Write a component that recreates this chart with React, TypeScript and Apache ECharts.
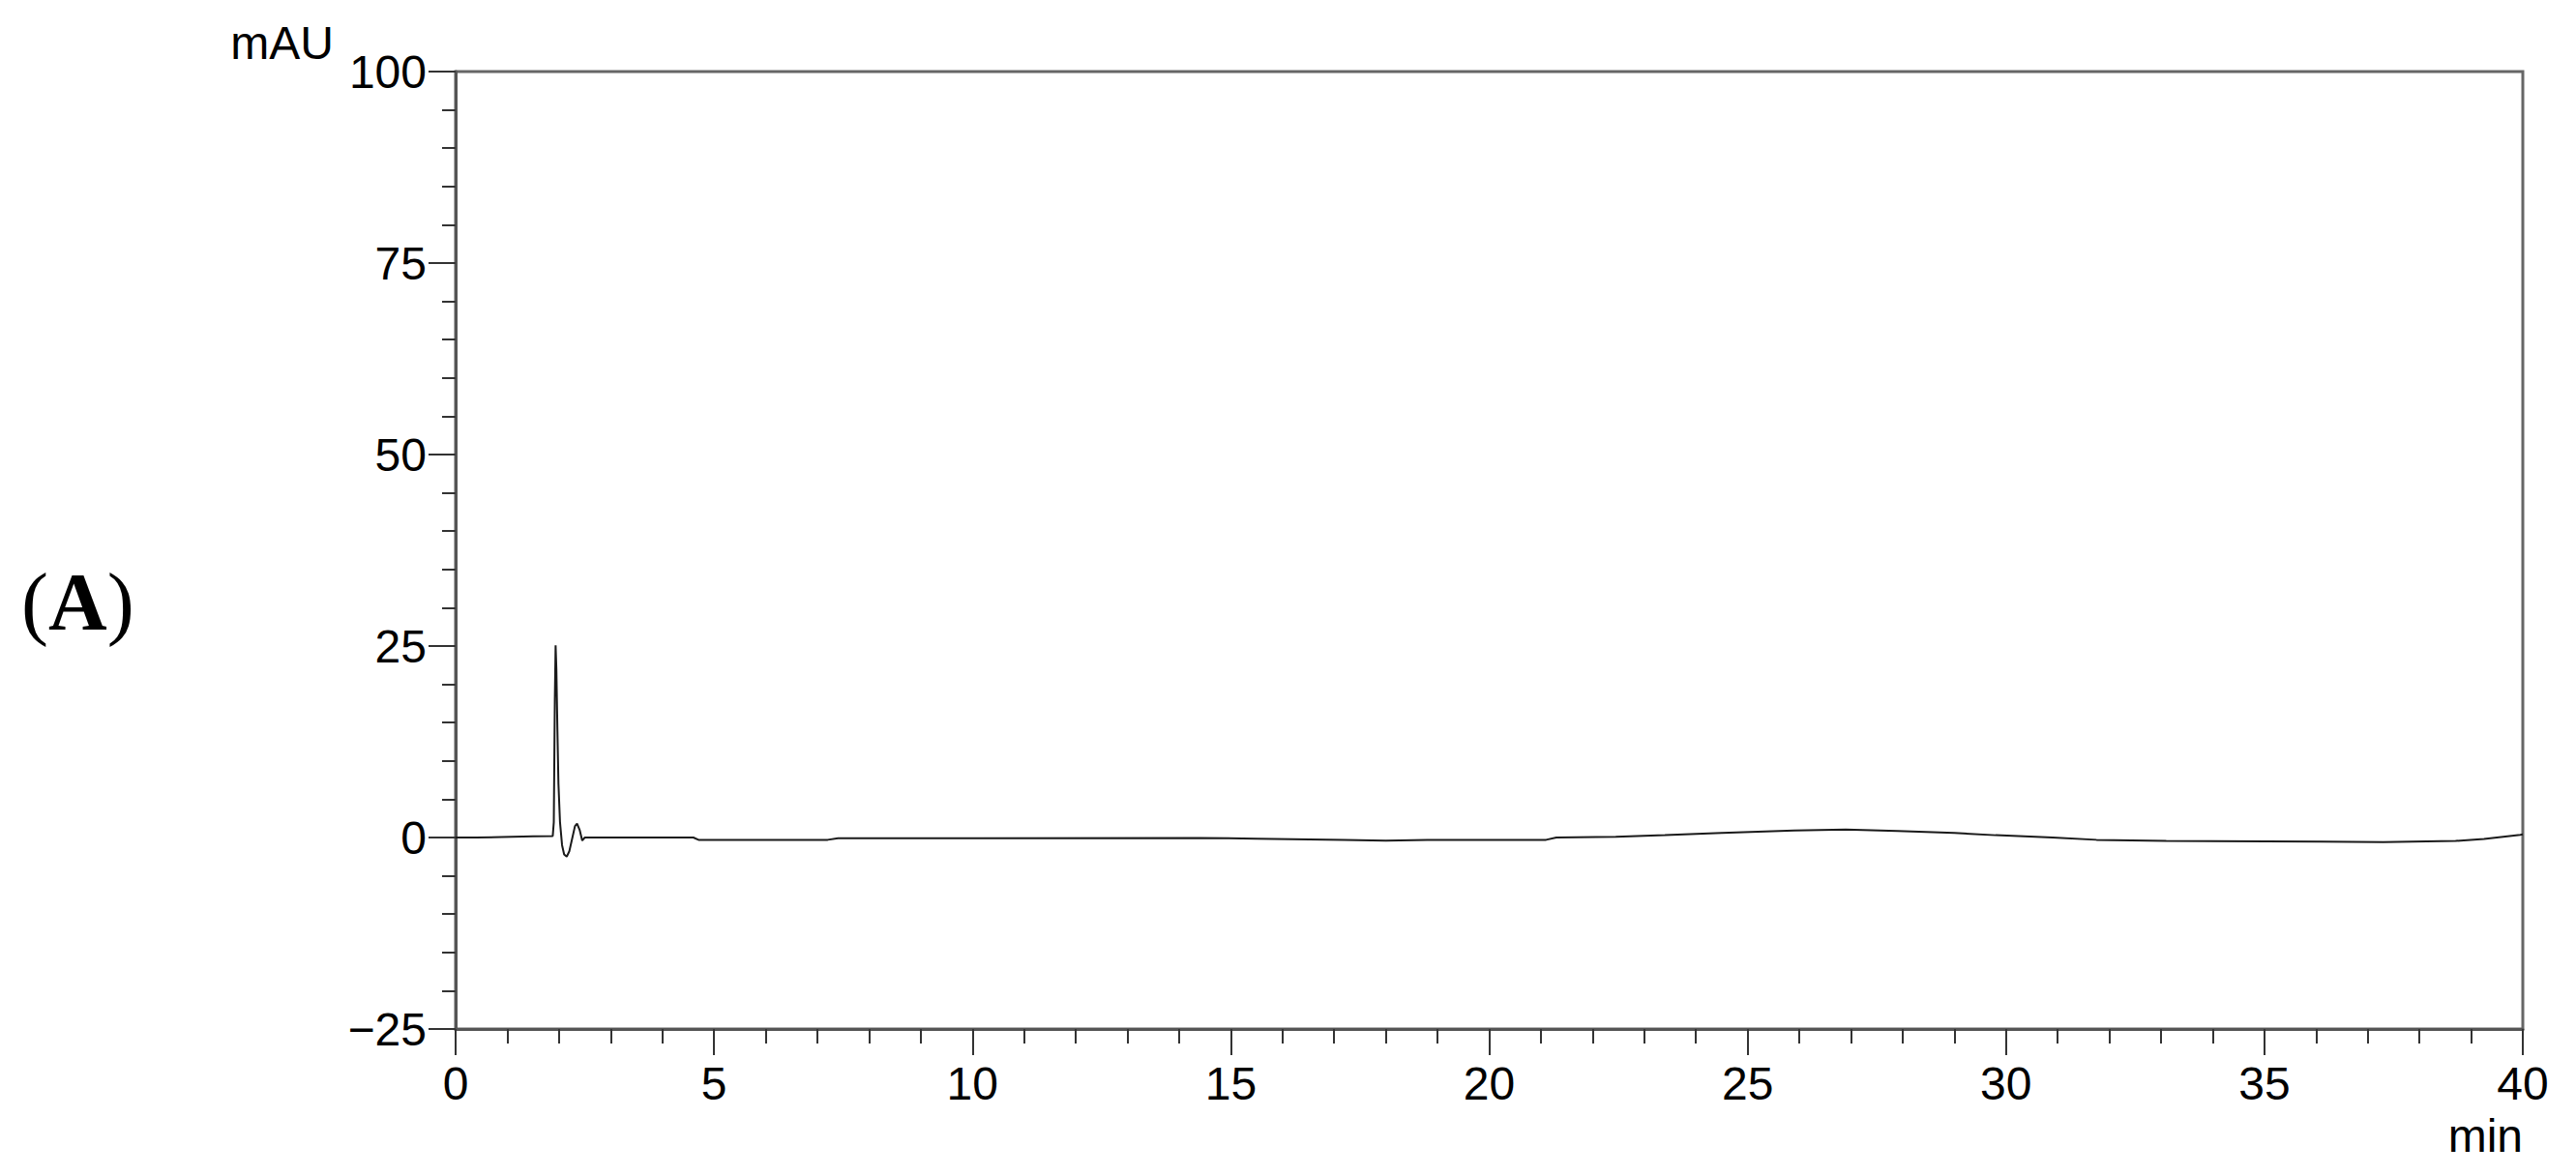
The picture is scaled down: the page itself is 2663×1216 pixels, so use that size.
import React, { useEffect, useRef } from "react";
import * as echarts from "echarts";

// Retention time (min) and absorbance (mAU)
const timeMin: number[] = [
  0, 0.4, 1.5, 1.88, 1.9, 1.92, 1.935, 1.95, 1.97, 1.99, 2.02, 2.06, 2.1, 2.15, 2.2,
  2.26, 2.31, 2.35, 2.4, 2.45, 2.5, 4.6, 4.7, 7.2, 7.4, 14.4, 15.5, 17.2, 18, 18.8,
  21.1, 21.3, 22.45, 23.4, 24.5, 25.9, 26.9, 27.9, 29.0, 29.8, 30.9, 31.75, 33.1,
  36.1, 37.3, 38.7, 39.25, 39.95, 40,
];
const absorbance: number[] = [
  0, 0, 0.15, 0.2, 2, 18, 25.1, 22, 14, 7, 2, -1, -2.2, -2.5, -1.8,
  0, 1.5, 1.8, 1, -0.4, 0, 0, -0.3, -0.3, -0.1, -0.05, -0.15, -0.3, -0.4, -0.3,
  -0.3, 0, 0.1, 0.3, 0.6, 0.9, 1.05, 0.85, 0.6, 0.3, 0, -0.3, -0.45,
  -0.55, -0.6, -0.45, -0.2, 0.35, 0.4,
];
const yTicks: number[] = [-25, 0, 25, 50, 75, 100];
const xTicks: number[] = [0, 5, 10, 15, 20, 25, 30, 35, 40];
const xUnit = "min";
const yUnit = "mAU";
const panelLabel = "A";

export default function App() {
  const ref = useRef<HTMLDivElement>(null);
  useEffect(() => {
    if (!ref.current) return;
    const chart = echarts.init(ref.current, undefined, { renderer: "svg" });
    const data = timeMin.map((t, i) => [t, absorbance[i]]);
    const labelFont = "'Liberation Sans', Arial, sans-serif";
    const serif = "'Liberation Serif', 'Times New Roman', serif";
    chart.setOption({
      animation: false,
      backgroundColor: "#ffffff",
      grid: {
        left: 471,
        right: 55,
        top: 74,
        bottom: 152,
        show: true,
        borderColor: "#666666",
        borderWidth: 3,
        backgroundColor: "transparent",
      },
      xAxis: {
        type: "value",
        min: xTicks[0],
        max: xTicks[xTicks.length - 1],
        interval: 5,
        name: xUnit,
        nameLocation: "end",
        nameGap: 0,
        nameTextStyle: {
          fontFamily: labelFont,
          fontSize: 48,
          color: "#000",
          align: "right",
          verticalAlign: "top",
          padding: [86, 0, 0, 0],
        },
        axisLine: { show: true, onZero: false, lineStyle: { color: "#555", width: 3 } },
        axisTick: { show: true, inside: false, length: 27, lineStyle: { color: "#333", width: 2 } },
        minorTick: { show: true, splitNumber: 5, length: 15, lineStyle: { color: "#333", width: 2 } },
        axisLabel: {
          margin: 32,
          fontFamily: labelFont,
          fontSize: 48,
          color: "#000",
        },
        splitLine: { show: false },
        minorSplitLine: { show: false },
      },
      yAxis: {
        type: "value",
        min: yTicks[0],
        max: yTicks[yTicks.length - 1],
        interval: 25,
        name: yUnit,
        nameLocation: "end",
        nameGap: 6,
        nameTextStyle: {
          fontFamily: labelFont,
          fontSize: 48,
          color: "#000",
          align: "right",
          verticalAlign: "bottom",
          padding: [0, 126, 0, 0],
        },
        axisLine: { show: true, onZero: false, lineStyle: { color: "#555", width: 3 } },
        axisTick: { show: true, inside: false, length: 28, lineStyle: { color: "#333", width: 2 } },
        minorTick: { show: true, splitNumber: 5, length: 14, lineStyle: { color: "#333", width: 2 } },
        axisLabel: {
          margin: 30,
          fontFamily: labelFont,
          fontSize: 48,
          color: "#000",
          formatter: (v: number) => String(v).replace("-", "\u2212"),
        },
        splitLine: { show: false },
        minorSplitLine: { show: false },
      },
      graphic: [
        {
          type: "text",
          left: 22,
          top: 580,
          style: {
            text: "{p|(}{b|" + panelLabel + "}{p|)}",
            rich: {
              p: { fontFamily: serif, fontSize: 84, fontWeight: "normal", fill: "#000" },
              b: { fontFamily: serif, fontSize: 84, fontWeight: "bold", fill: "#000" },
            },
          },
        },
      ],
      series: [
        {
          type: "line",
          data,
          showSymbol: false,
          symbol: "none",
          lineStyle: { color: "#1a1a1a", width: 2 },
          clip: true,
        },
      ],
    });
    return () => chart.dispose();
  }, []);
  return (
    <div
      ref={ref}
      style={{ position: "absolute", left: 0, top: 0, width: 2663, height: 1216 }}
    />
  );
}
